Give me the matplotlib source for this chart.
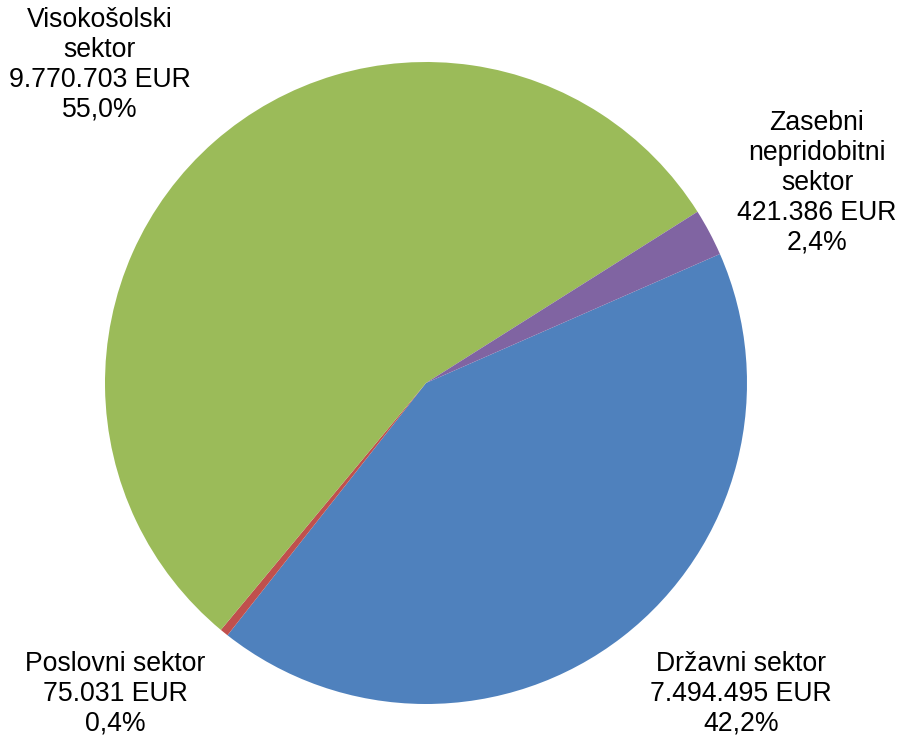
import matplotlib
matplotlib.use("Agg")
import matplotlib.pyplot as plt

categories = ["Državni sektor", "Poslovni sektor", "Visokošolski\nsektor", "Zasebni\nnepridobitni\nsektor"]
values = [7494495, 75031, 9770703, 421386]
value_labels = ["7.494.495 EUR", "75.031 EUR", "9.770.703 EUR", "421.386 EUR"]
percent_labels = ["42,2%", "0,4%", "55,0%", "2,4%"]
colors = ["#4F81BD", "#C0504D", "#9BBB59", "#8064A2"]

W, H, DPI = 904, 740, 100
cx, cy, R = 426, 383, 321

fig = plt.figure(figsize=(W / DPI, H / DPI), dpi=DPI)
ax = fig.add_axes([0, 0, 1, 1])

ax.pie(values, colors=colors, startangle=23.7, counterclock=False,
       radius=1.0, center=(0, 0), frame=True,
       wedgeprops=dict(linewidth=0))
ax.set_xlim(-cx / R, (W - cx) / R)
ax.set_ylim(-(H - cy) / R, cy / R)
ax.set_aspect("auto")
ax.axis("off")

# label centres in pixel coords
label_pos = [(741, 694), (115, 694), (100, 65), (817, 183)]
for cat, vl, pl, (px, py) in zip(categories, value_labels, percent_labels, label_pos):
    x = (px - cx) / R
    y = (cy - py) / R
    ax.text(x, y, f"{cat}\n{vl}\n{pl}", ha="center", va="center",
            multialignment="center", fontsize=19.2, linespacing=1.19,
            family=["Liberation Sans", "DejaVu Sans"], color="black")

fig.savefig("out.png", dpi=DPI)
